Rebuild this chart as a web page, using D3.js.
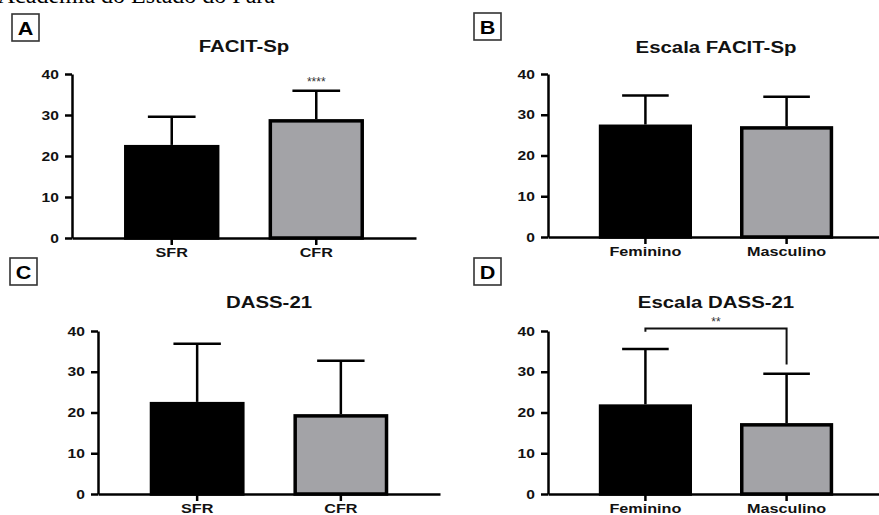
<!DOCTYPE html>
<html>
<head>
<meta charset="utf-8">
<script src="https://cdnjs.cloudflare.com/ajax/libs/d3/7.8.5/d3.min.js"></script>
<style>
  body { margin: 0; background: #fff; }
  svg { display: block; }
</style>
</head>
<body>
<svg id="chart"></svg>
<script>
// data
const groupsFR = ["SFR", "CFR"];
const groupsSex = ["Feminino", "Masculino"];

const facitFRMean = [22.7, 29.0];
const facitFRSd = [6.9, 6.9];
const facitSexMean = [27.6, 27.2];
const facitSexSd = [7.1, 7.2];
const dassFRMean = [22.6, 19.6];
const dassFRSd = [14.3, 13.1];
const dassSexMean = [22.0, 17.4];
const dassSexSd = [13.6, 12.1];

const yTicks = [0, 10, 20, 30, 40];
const barColors = ["#000000", "#a3a3a7"];

// significance marks
const facitStar = { index: 1, label: "****" };
const dassBracket = { level: 40.6, leftEnd: 39.8, rightEnd: 31.8, label: "**" };

const width = 879, height = 515;
const stretch = 1.2;

const svg = d3.select("#chart")
	.attr("width", width)
	.attr("height", height);

const font = "'Liberation Sans', Arial, Helvetica, sans-serif";

// cropped running header at the very top
svg.append("text")
	.attr("x", 275)
	.attr("y", 3)
	.attr("text-anchor", "end")
	.style("font-family", "'Liberation Serif', 'Times New Roman', serif")
	.style("font-size", "24px")
	.text("Academia do Estado do Pará");

const panels = [
	{ letter: "A", title: "FACIT-Sp", cats: groupsFR, mean: facitFRMean, sd: facitFRSd,
	  x0: 72, x1: 416, yBot: 238, yTop: 74, box: [12, 14], titleY: 52, star: facitStar },
	{ letter: "B", title: "Escala FACIT-Sp", cats: groupsSex, mean: facitSexMean, sd: facitSexSd,
	  x0: 548, x1: 884, yBot: 237, yTop: 74, box: [474, 13], titleY: 53 },
	{ letter: "C", title: "DASS-21", cats: groupsFR, mean: dassFRMean, sd: dassFRSd,
	  x0: 98, x1: 440, yBot: 494, yTop: 331, box: [10, 258], titleY: 308 },
	{ letter: "D", title: "Escala DASS-21", cats: groupsSex, mean: dassSexMean, sd: dassSexSd,
	  x0: 548, x1: 884, yBot: 494, yTop: 331, box: [474, 258], titleY: 308, bracket: dassBracket }
];

panels.forEach(drawPanel);

function drawPanel(p) {
	const g = svg.append("g");

	const x = d3.scaleBand()
		.domain(p.cats)
		.range([p.x0, p.x1])
		.paddingInner(0.34)
		.paddingOuter(0.36);

	const y = d3.scaleLinear()
		.domain([0, 40])
		.range([p.yBot, p.yTop]);

	// letter box
	g.append("rect")
		.attr("x", p.box[0])
		.attr("y", p.box[1])
		.attr("width", 27)
		.attr("height", 27)
		.attr("fill", "#fff")
		.attr("stroke", "#333")
		.attr("stroke-width", 1.6);

	g.append("text")
		.attr("transform", `translate(${p.box[0] + 13.5},${p.box[1] + 20.5}) scale(${stretch},1)`)
		.attr("text-anchor", "middle")
		.style("font-family", font)
		.style("font-weight", "bold")
		.style("font-size", "18px")
		.text(p.letter);

	// title
	g.append("text")
		.attr("transform", `translate(${(p.x0 + p.x1) / 2},${p.titleY}) scale(${stretch},1)`)
		.attr("text-anchor", "middle")
		.style("font-family", font)
		.style("font-weight", "bold")
		.style("font-size", "17px")
		.attr("fill", "#111")
		.text(p.title);

	// bars
	const bars = p.cats.map((c, i) => ({ cat: c, mean: p.mean[i], sd: p.sd[i], i: i }));
	const bw = x.bandwidth();

	g.selectAll("rect.bar")
		.data(bars)
		.enter().append("rect")
		.attr("class", "bar")
		.attr("x", d => x(d.cat) + 1.75)
		.attr("y", d => y(d.mean) + 1.75)
		.attr("width", bw - 3.5)
		.attr("height", d => y(0) - y(d.mean) - 1.75)
		.attr("fill", d => barColors[d.i])
		.attr("stroke", "#000")
		.attr("stroke-width", 3.5);

	// error bars (upper only)
	g.selectAll("line.err")
		.data(bars)
		.enter().append("line")
		.attr("class", "err")
		.attr("x1", d => x(d.cat) + bw / 2)
		.attr("x2", d => x(d.cat) + bw / 2)
		.attr("y1", d => y(d.mean))
		.attr("y2", d => y(d.mean + d.sd))
		.attr("stroke", "#000")
		.attr("stroke-width", 2.5);

	g.selectAll("line.cap")
		.data(bars)
		.enter().append("line")
		.attr("class", "cap")
		.attr("x1", d => x(d.cat) + bw / 4)
		.attr("x2", d => x(d.cat) + bw * 3 / 4)
		.attr("y1", d => y(d.mean + d.sd))
		.attr("y2", d => y(d.mean + d.sd))
		.attr("stroke", "#000")
		.attr("stroke-width", 2.5);

	// axes
	const yAxis = g.append("g")
		.attr("transform", `translate(${p.x0},0)`)
		.call(d3.axisLeft(y).tickValues(yTicks).tickSizeInner(7).tickSizeOuter(0).tickPadding(4));

	const xAxis = g.append("g")
		.attr("transform", `translate(0,${y(0)})`)
		.call(d3.axisBottom(x).tickSizeInner(7).tickSizeOuter(0).tickPadding(2));

	[yAxis, xAxis].forEach(a => {
		a.select(".domain").attr("stroke", "#000").attr("stroke-width", 2.5);
		a.selectAll(".tick line").attr("stroke", "#000").attr("stroke-width", 2.5);
		a.selectAll(".tick text")
			.attr("fill", "#111")
			.style("font-family", font)
			.style("font-weight", "bold")
			.attr("transform", `scale(${stretch},1)`);
	});
	yAxis.selectAll(".tick text").style("font-size", "13px");
	xAxis.selectAll(".tick text").style("font-size", "13.5px");

	// significance stars above a bar
	if (p.star) {
		const d = bars[p.star.index];
		g.append("text")
			.attr("x", x(d.cat) + bw / 2)
			.attr("y", y(d.mean + d.sd) - 5)
			.attr("text-anchor", "middle")
			.style("font-family", font)
			.style("font-size", "12px")
			.attr("fill", "#333")
			.text(p.star.label);
	}

	// comparison bracket
	if (p.bracket) {
		const b = p.bracket;
		const xl = x(p.cats[0]) + bw / 2;
		const xr = x(p.cats[1]) + bw / 2;
		g.append("path")
			.attr("d", `M${xl},${y(b.leftEnd)}V${y(b.level)}H${xr}V${y(b.rightEnd)}`)
			.attr("fill", "none")
			.attr("stroke", "#111")
			.attr("stroke-width", 2);
		g.append("text")
			.attr("x", (xl + xr) / 2)
			.attr("y", y(b.level) - 3)
			.attr("text-anchor", "middle")
			.style("font-family", font)
			.style("font-size", "12px")
			.attr("fill", "#333")
			.text(b.label);
	}
}
</script>
</body>
</html>
